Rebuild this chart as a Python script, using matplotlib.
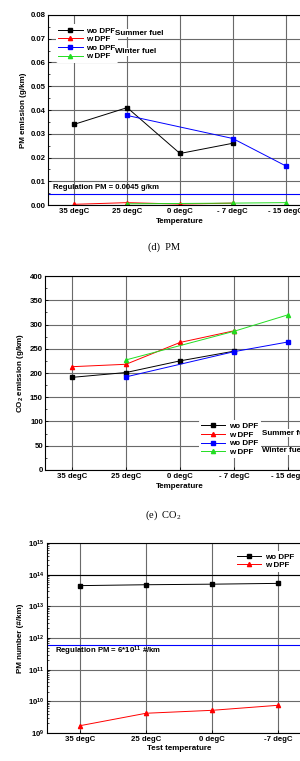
import numpy as np
import matplotlib
matplotlib.use("Agg")
import matplotlib.pyplot as plt
from matplotlib.ticker import MultipleLocator, LogLocator, NullFormatter

plt.rcParams['font.family'] = ['Liberation Sans', 'DejaVu Sans']
plt.rcParams['font.weight'] = 'bold'
plt.rcParams['mathtext.default'] = 'regular'

temps = ['35 degC', '25 degC', '0 degC', '- 7 degC', '- 15 degC']
temps_pn = ['35 degC', '25 degC', '0 degC', '-7 degC']

# (d) PM mass, g/km  (None = not measured)
pm_summer_wo = [0.034, 0.041, 0.0217, 0.026, None]
pm_summer_w = [0.0003, 0.001, 0.0004, 0.0008, None]
pm_winter_wo = [None, 0.0377, None, 0.028, 0.0165]
pm_winter_w = [None, 0.0005, None, 0.0008, 0.001]
pm_limit = 0.0045

# (e) CO2, g/km
co2_summer_wo = [191, 201, 225, 245, None]
co2_summer_w = [213, 218, 263, 287, None]
co2_winter_wo = [None, 192, None, 244, 264]
co2_winter_w = [None, 227, None, 286, 320]

# (f) PM number, #/km
pn_wo = [4.5e13, 4.8e13, 5.0e13, 5.3e13]
pn_w = [1.7e9, 4.2e9, 5.2e9, 7.5e9]
pn_limit = 6e11

tick_fs = 5.6
leg_fs = 5.8
lab_fs = 5.8
grid_c = '#6a6a6a'


def series(vals):
    x = [i for i, v in enumerate(vals) if v is not None]
    y = [v for v in vals if v is not None]
    return x, y


def style(ax, labels):
    ax.set_xlim(-0.5, len(labels) - 0.5)
    ax.set_xticks(range(len(labels)))
    ax.set_xticklabels(labels)
    ax.tick_params(direction='in', labelsize=tick_fs, length=2, width=0.6, pad=1.5)
    ax.tick_params(which='minor', direction='in', length=1.2, width=0.5)
    ax.tick_params(axis='x', pad=2.5)
    ax.grid(True, which='major', color=grid_c, linewidth=0.8)
    ax.set_axisbelow(True)
    for s in ax.spines.values():
        s.set_linewidth(0.8)


def draw4(ax, a, b, c, d):
    kw = dict(lw=0.7, ms=3)
    h = []
    for vals, col, m in [(a, 'black', 's'), (b, 'red', '^'), (c, 'blue', 's'), (d, '#22dd22', '^')]:
        x, y = series(vals)
        h += ax.plot(x, y, color=col, marker=m, **kw)
    return h


def legend(ax, handles, labels, anchor, loc):
    leg = ax.legend(handles, labels, loc=loc, bbox_to_anchor=anchor, fontsize=leg_fs,
                    frameon=True, handlelength=3.0, handletextpad=0.5,
                    labelspacing=0.12, borderpad=0.3, borderaxespad=0)
    leg.get_frame().set_edgecolor('none')
    leg.get_frame().set_alpha(1)
    return leg


def fuel_text(x, y, s):
    fig.text(x, y, s, fontsize=leg_fs, fontweight='bold', va='center',
             bbox=dict(fc='white', ec='none', pad=0.5))


fig = plt.figure(figsize=(3.0, 7.61), dpi=100)

# ---- (d) PM
ax1 = fig.add_axes([0.16, 0.7306, 0.88, 0.2497])
h = draw4(ax1, pm_summer_wo, pm_summer_w, pm_winter_wo, pm_winter_w)
ax1.axhline(pm_limit, color='blue', lw=0.8)
ax1.text(-0.41, 0.0075, 'Regulation PM = 0.0045 g/km', fontsize=tick_fs,
         fontweight='bold', ha='left', va='center')
ax1.set_ylim(0, 0.08)
ax1.yaxis.set_major_locator(MultipleLocator(0.01))
ax1.yaxis.set_minor_locator(MultipleLocator(0.005))
ax1.yaxis.set_major_formatter(plt.FormatStrFormatter('%.2f'))
style(ax1, temps)
ax1.set_xlabel('Temperature', fontsize=lab_fs, fontweight='bold', labelpad=2)
ax1.set_ylabel('PM emission (g/km)', fontsize=lab_fs, fontweight='bold', labelpad=3)
legend(ax1, h, ['wo DPF', 'w DPF', 'wo DPF', 'w DPF'], (0.03, 0.95), 'upper left')
fuel_text(0.383, 0.9566, 'Summer fuel')
fuel_text(0.383, 0.9317, 'Winter fuel')
fig.text(0.545, 0.675, '(d)  PM', fontsize=7.5, family='Liberation Serif',
         fontweight='normal', ha='center', va='center')

# ---- (e) CO2
ax2 = fig.add_axes([0.15, 0.3824, 0.90, 0.2549])
h = draw4(ax2, co2_summer_wo, co2_summer_w, co2_winter_wo, co2_winter_w)
ax2.set_ylim(0, 400)
ax2.yaxis.set_major_locator(MultipleLocator(50))
ax2.yaxis.set_minor_locator(MultipleLocator(25))
style(ax2, temps)
ax2.set_xlabel('Temperature', fontsize=lab_fs, fontweight='bold', labelpad=2)
ax2.set_ylabel('CO$_2$ emission (g/km)', fontsize=lab_fs, fontweight='bold', labelpad=3)
legend(ax2, h, ['wo DPF', 'w DPF', 'wo DPF', 'w DPF'], (0.57, 0.06), 'lower left')
fuel_text(0.873, 0.431, 'Summer fuel')
fuel_text(0.873, 0.4074, 'Winter fuel')
fig.text(0.545, 0.3233, '(e)  CO$_2$', fontsize=7.5, family='Liberation Serif',
         fontweight='normal', ha='center', va='center')

# ---- (f) PM number
ax3 = fig.add_axes([0.1567, 0.0368, 0.88, 0.2497])
x = np.arange(len(temps_pn))
h1, = ax3.plot(x, pn_wo, color='black', marker='s', lw=0.7, ms=3)
h2, = ax3.plot(x, pn_w, color='red', marker='^', lw=0.7, ms=3)
ax3.axhline(pn_limit, color='blue', lw=0.8)
ax3.text(-0.38, 3.9e11, 'Regulation PM = 6*10$^{11}$ #/km', fontsize=tick_fs,
         fontweight='bold', ha='left', va='center')
ax3.set_yscale('log')
ax3.set_ylim(1e9, 1e15)
ax3.yaxis.set_major_locator(LogLocator(base=10, numticks=10))
ax3.yaxis.set_minor_locator(LogLocator(base=10, subs=np.arange(2, 10), numticks=10))
ax3.yaxis.set_minor_formatter(NullFormatter())
style(ax3, temps_pn)
ax3.axhline(1e14, color='black', lw=0.8, zorder=0.9)
ax3.set_xlabel('Test temperature', fontsize=lab_fs, fontweight='bold', labelpad=1)
ax3.set_ylabel('PM number (#/km)', fontsize=lab_fs, fontweight='bold', labelpad=3)
legend(ax3, [h1, h2], ['wo DPF', 'w DPF'], (0.71, 0.96), 'upper left')

fig.savefig('out.png', dpi=100)
